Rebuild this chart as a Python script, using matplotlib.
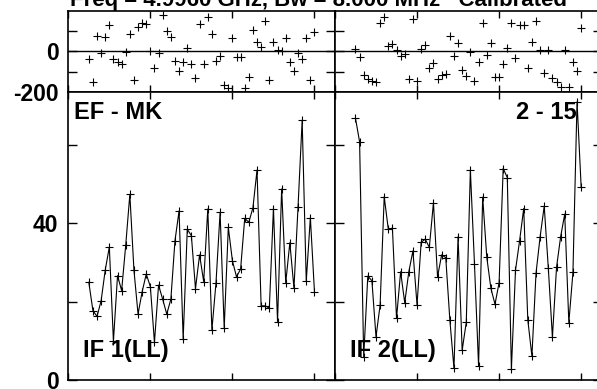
import matplotlib
matplotlib.use("Agg")
import matplotlib.pyplot as plt

plt.rcParams['font.family'] = ['Liberation Sans', 'DejaVu Sans']
plt.rcParams['font.weight'] = 'bold'

# sample times, minutes from panel start (same for both IFs)
minutes = [15, 18, 21, 24, 27, 30, 33, 36, 39, 42, 45, 48, 51, 54, 57, 60,
           63, 66, 69, 72, 75, 78, 81, 84, 87, 90, 93, 96, 99, 102, 105, 108,
           111, 114, 117, 120, 123, 126, 129, 132, 135, 138, 141, 144, 147,
           150, 153, 156, 159, 162, 165, 168, 171, 174, 177, 180]

# IF 1 (LL)
phase_if1 = [-40, -150, 75, -11, 70, 127, -40, -52, -63, -3, 81, -141, 116,
             138, 132, 1, -81, -11, 176, 98, 70, -49, -98, -55, 13, -65, -133,
             132, -65, 164, 83, -49, -23, -166, -179, 62, -31, -31, -179, -125,
             102, 45, 21, 148, -141, 45, 5, 1, 62, -55, -98, -11, -40, 65,
             -141, 94]
amp_if1 = [24.9, 17.7, 16.2, 20.2, 28.0, 33.9, 9.9, 26.6, 22.8, 34.4, 47.3,
           28.0, 16.8, 22.5, 27.0, 23.8, 9.6, 24.2, 20.6, 16.8, 20.6, 35.5,
           43.1, 10.5, 38.4, 36.8, 23.3, 31.9, 25.1, 43.6, 12.7, 24.8, 42.7,
           13.3, 38.9, 30.4, 26.3, 28.3, 41.2, 40.2, 43.9, 53.5, 18.9, 18.9,
           18.3, 43.7, 14.9, 48.7, 24.8, 35.0, 23.4, 44.2, 66.2, 25.2, 41.4,
           22.5]

# IF 2 (LL)
phase_if2 = [8, -28, -117, -138, -145, -150, 135, 167, 26, 34, 5, -24, -15,
             -138, 155, -145, 8, 29, -84, -57, -137, -117, -112, 73, -24, 38,
             -93, -122, -3, -145, -52, 138, -20, 38, -125, -128, -65, 16, 135,
             -36, 127, 127, -84, 42, 148, 5, -109, 5, -133, -150, -177, 5,
             -177, -55, -96, 111]
amp_if2 = [66.7, 60.7, 5.9, 26.5, 25.3, 11.0, 19.1, 46.7, 38.4, 38.7, 15.7,
           27.6, 19.7, 27.6, 32.9, 19.1, 35.1, 35.9, 33.8, 45.2, 26.3, 31.9,
           31.2, 15.3, 3.0, 36.5, 7.6, 14.7, 53.5, 29.6, 3.6, 46.6, 31.3, 23.4,
           19.3, 24.8, 53.9, 51.6, 2.7, 28.0, 35.5, 43.7, 15.3, 6.1, 27.2,
           36.5, 44.3, 28.5, 10.9, 28.7, 36.5, 42.3, 14.6, 27.4, 70.9, 49.3]

panels = [
    ("IF 1(LL)", phase_if1, amp_if1),
    ("IF 2(LL)", phase_if2, amp_if2),
]

TITLE = "Freq = 4.9960 GHz, Bw = 8.000 MHz   Calibrated"
BASELINE = "EF - MK"
SCAN = "2 - 15"

FS = 17


def style_axes(ax, ylen):
    for s in ax.spines.values():
        s.set_linewidth(1.2)
    ax.tick_params(axis='x', direction='in', top=True, bottom=True,
                   length=5, width=1)
    ax.tick_params(axis='y', direction='in', left=True, right=True,
                   length=ylen, width=1, pad=7, labelsize=16.5)
    ax.set_xlim(0, 195)
    ax.set_xticks([0, 60, 120, 180])
    ax.set_xticklabels([])


fig = plt.figure(figsize=(5.97, 3.89), dpi=100)

lefts = [0.1144, 0.5611]
width = 0.4467

for i, (label, ph, amp) in enumerate(panels):
    axp = fig.add_axes([lefts[i], 0.7635, width, 0.2095])
    axa = fig.add_axes([lefts[i], 0.0231, width, 0.7404])

    axp.plot(minutes, ph, linestyle='none', marker='+', color='black',
             markersize=6, markeredgewidth=0.8)
    axp.axhline(0, color='black', linewidth=1)
    axp.set_ylim(-200, 197.6)
    style_axes(axp, 6.5)
    axp.set_yticks([-200, -100, 0, 100])
    if i == 0:
        axp.set_yticklabels(["-200", "", "0", ""])
    else:
        axp.set_yticklabels([])

    axa.plot(minutes, amp, color='black', linewidth=0.8, marker='+',
             markersize=6, markeredgewidth=0.8)
    axa.set_ylim(0, 73.4)
    style_axes(axa, 6.5)
    axa.set_yticks([0, 20, 40, 60])
    if i == 0:
        axa.set_yticklabels(["0", "", "40", ""])
    else:
        axa.set_yticklabels([])

    axa.text(0.056, 0.08, label, transform=axa.transAxes, fontsize=FS,
             fontweight='bold', va='baseline', ha='left')
    if i == 0:
        axa.text(0.021, 0.905, BASELINE, transform=axa.transAxes,
                 fontsize=FS, fontweight='bold', va='baseline', ha='left')
    else:
        axa.text(0.907, 0.905, SCAN, transform=axa.transAxes,
                 fontsize=FS, fontweight='bold', va='baseline', ha='right')

fig.text(0.117, 1 - 6 / 389, TITLE, fontsize=16, fontweight='bold',
         va='baseline', ha='left')

fig.savefig("out.png", dpi=100)
